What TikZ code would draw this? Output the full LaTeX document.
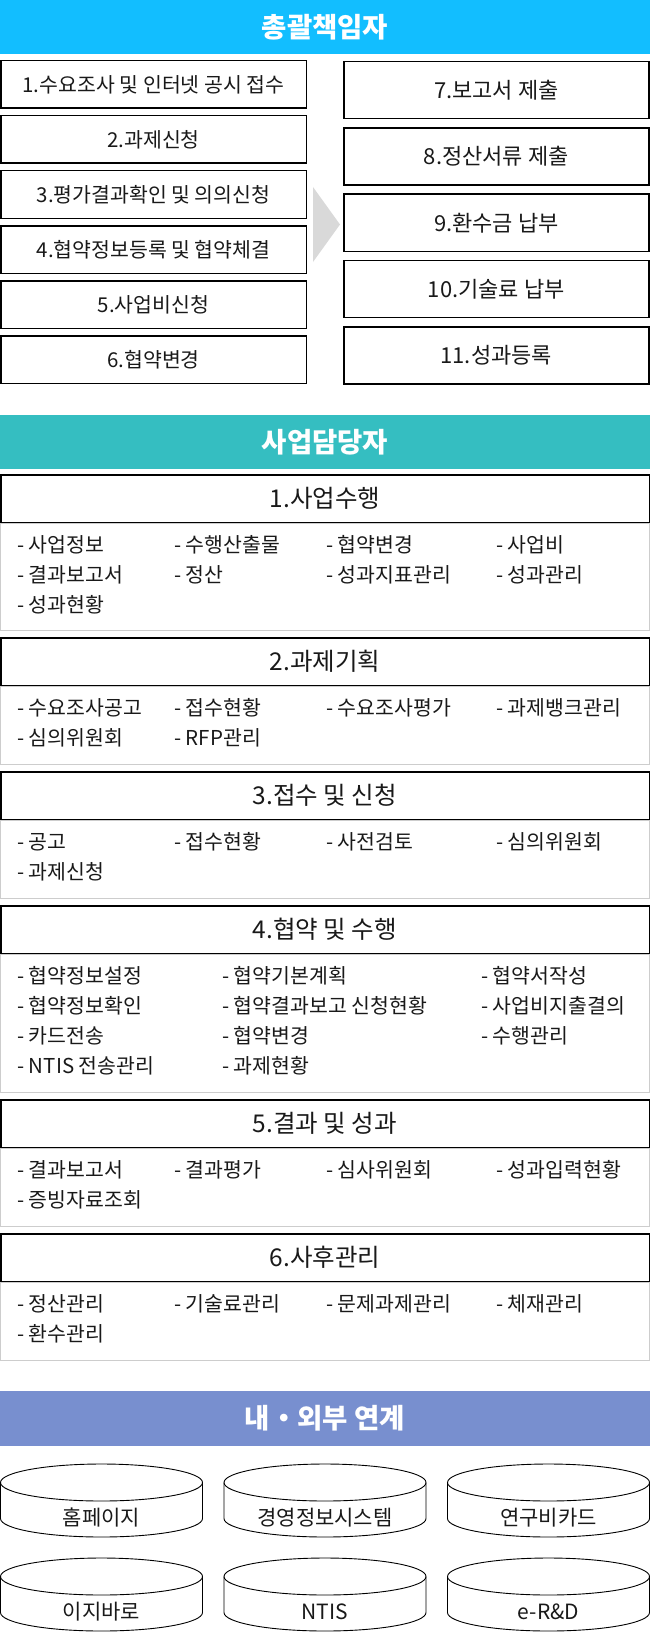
\documentclass[tikz,border=0pt]{standalone}
\usepackage{fontspec}
\setmainfont{Noto Sans CJK KR}
\definecolor{bannerA}{RGB}{18,190,255}
\definecolor{bannerB}{RGB}{53,190,193}
\definecolor{bannerC}{RGB}{120,143,207}
\definecolor{arrowgray}{RGB}{217,217,217}
\definecolor{bodygray}{RGB}{205,205,205}
\definecolor{ink}{RGB}{25,25,25}
\begin{document}
\begin{tikzpicture}[x=1pt,y=-1pt,
  every node/.style={inner sep=0pt, text=ink},
  bannertext/.style={text=white, font=\bfseries\fontsize{27.5}{30}\selectfont},
  leftbox/.style={draw=black, line width=1.5pt, minimum width=305.5pt, minimum height=47.5pt, font=\fontsize{20.5}{23}\selectfont},
  rightbox/.style={draw=black, line width=1.5pt, minimum width=305pt, minimum height=57pt, font=\fontsize{22}{25}\selectfont},
  headbox/.style={draw=black, line width=1.5pt, minimum width=648.5pt, minimum height=47.5pt, font=\fontsize{24.5}{27}\selectfont},
  bodybox/.style={draw=bodygray, line width=1pt},
  item/.style={anchor=west, font=\fontsize{20.5}{23}\selectfont},
  cyl/.style={draw=black, line width=0.9pt},
  cyltext/.style={font=\fontsize{21}{24}\selectfont}
]
\useasboundingbox (0,0) rectangle (650,1632);

% ---------- banner 1 ----------
\fill[bannerA] (0,0) rectangle (650,54);
\node[bannertext] (bA) at (325,27) {총괄책임자};

% left boxes
\foreach \t [count=\n from 0] in {{1.수요조사 및 인터넷 공시 접수},{2.과제신청},{3.평가결과확인 및 의의신청},{4.협약정보등록 및 협약체결},{5.사업비신청},{6.협약변경}}
  \node[leftbox] (L\n) at (153.5,{84.5+55*\n}) {\t};

% right boxes
\foreach \t [count=\n from 0] in {{7.보고서 제출},{8.정산서류 제출},{9.환수금 납부},{10.기술료 납부},{11.성과등록}}
  \node[rightbox] (R\n) at (496.25,{90.25+66.25*\n}) {\t};

% arrow
\fill[arrowgray] (313,187) -- (340,224.5) -- (313,262) -- cycle;

% ---------- banner 2 ----------
\fill[bannerB] (0,415) rectangle (650,469);
\node[bannertext] (bB) at (325,442) {사업담당자};

% bodies (drawn first)
\draw[bodybox] (0.5,523) rectangle (649.5,630.5);
\draw[bodybox] (0.5,686) rectangle (649.5,764.5);
\draw[bodybox] (0.5,820) rectangle (649.5,898.5);
\draw[bodybox] (0.5,954) rectangle (649.5,1092.5);
\draw[bodybox] (0.5,1148) rectangle (649.5,1226.5);
\draw[bodybox] (0.5,1282) rectangle (649.5,1360.5);

% headers
\node[headbox] (H1) at (325,498.5) {1.사업수행};
\node[headbox] (H2) at (325,661.5) {2.과제기획};
\node[headbox] (H3) at (325,795.5) {3.접수 및 신청};
\node[headbox] (H4) at (325,929.5) {4.협약 및 수행};
\node[headbox] (H5) at (325,1123.5) {5.결과 및 성과};
\node[headbox] (H6) at (325,1257.5) {6.사후관리};

% items section 1
\foreach \x/\y/\t [count=\n] in {17/545/사업정보,174/545/수행산출물,326/545/협약변경,496/545/사업비,
  17/575/결과보고서,174/575/정산,326/575/성과지표관리,496/575/성과관리,17/605/성과현황}
  \node[item] (a\n) at (\x,\y) {- \t};
% section 2
\foreach \x/\y/\t [count=\n] in {17/708/수요조사공고,174/708/접수현황,326/708/수요조사평가,496/708/과제뱅크관리,
  17/738/심의위원회,174/738/RFP관리}
  \node[item] (b\n) at (\x,\y) {- \t};
% section 3
\foreach \x/\y/\t [count=\n] in {17/842/공고,174/842/접수현황,326/842/사전검토,496/842/심의위원회,17/872/과제신청}
  \node[item] (c\n) at (\x,\y) {- \t};
% section 4
\foreach \x/\y/\t [count=\n] in {17/976/협약정보설정,222/976/협약기본계획,481/976/협약서작성,
  17/1006/협약정보확인,222/1006/{협약결과보고 신청현황},481/1006/사업비지출결의,
  17/1036/카드전송,222/1036/협약변경,481/1036/수행관리,
  17/1066/{NTIS 전송관리},222/1066/과제현황}
  \node[item] (d\n) at (\x,\y) {- \t};
% section 5
\foreach \x/\y/\t [count=\n] in {17/1170/결과보고서,174/1170/결과평가,326/1170/심사위원회,496/1170/성과입력현황,17/1200/증빙자료조회}
  \node[item] (e\n) at (\x,\y) {- \t};
% section 6
\foreach \x/\y/\t [count=\n] in {17/1304/정산관리,174/1304/기술료관리,326/1304/문제과제관리,496/1304/체재관리,17/1334/환수관리}
  \node[item] (f\n) at (\x,\y) {- \t};

% ---------- banner 3 ----------
\fill[bannerC] (0,1391) rectangle (650,1446);
\node[bannertext] (bC) at (325,1418.5) {내・외부 연계};

% cylinders
\foreach \cx/\top/\t [count=\n] in {101.5/1464/홈페이지,325/1464/경영정보시스템,548.5/1464/연구비카드,
  101.5/1558/이지바로,325/1558/NTIS,548.5/1558/e-R\&D}
{
  \draw[cyl] (\cx-101,\top+18.5) -- (\cx-101,\top+54.5)
     arc[start angle=180, end angle=360, x radius=101pt, y radius=18.5pt] -- (\cx+101,\top+18.5);
  \draw[cyl] (\cx,\top+18.5) ellipse[x radius=101pt, y radius=18.5pt];
  \node[cyltext] (cy\n) at (\cx,\top+53.5) {\t};
}
\end{tikzpicture}
\end{document}
